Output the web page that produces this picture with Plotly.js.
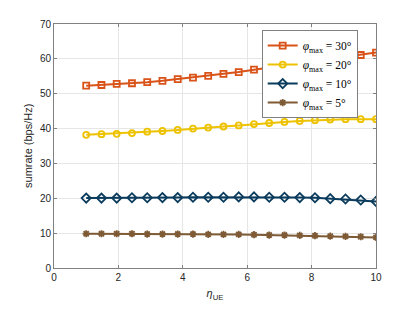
<!DOCTYPE html>
<html><head><meta charset="utf-8">
<script src="https://cdn.plot.ly/plotly-3.0.1.min.js"></script>
<style>html,body{margin:0;padding:0;background:#fff;}#chart{width:415px;height:312px;}</style>
</head><body><div id="chart"></div>
<script>
const etaUE = [1.000,1.474,1.947,2.421,2.895,3.368,3.842,4.316,4.789,5.263,5.737,6.211,6.684,7.158,7.632,8.105,8.579,9.053,9.526,10.000];
const phi30 = [52.3,52.5,52.8,53.0,53.3,53.7,54.2,54.6,55.1,55.7,56.2,56.9,57.5,58.1,58.7,59.3,59.9,60.5,61.1,61.8];
const phi20 = [38.2,38.4,38.5,38.7,39.1,39.3,39.6,40.0,40.3,40.6,40.9,41.3,41.6,41.9,42.2,42.4,42.6,42.7,42.7,42.7];
const phi10 = [20.05,20.05,20.05,20.15,20.15,20.2,20.2,20.3,20.3,20.3,20.4,20.4,20.3,20.3,20.2,20.15,19.9,19.8,19.5,19.1];
const phi5  = [9.83,9.83,9.83,9.83,9.74,9.74,9.74,9.74,9.64,9.64,9.64,9.55,9.45,9.45,9.35,9.26,9.16,9.06,8.97,8.78];
const names = ['<i>φ</i><sub>max</sub> = 30°','<i>φ</i><sub>max</sub> = 20°','<i>φ</i><sub>max</sub> = 10°','<i>φ</i><sub>max</sub> = 5°'];
const xTicks = [0,2,4,6,8,10];
const yTicks = [0,10,20,30,40,50,60,70];

const colors = ['#D95319','#EDC200','#0B3C5D','#7E5A35'];
const symbols = ['square-open','circle-open','diamond-open','asterisk-open'];
const sizes = [6,6,7,6];
const series = [phi30,phi20,phi10,phi5];
const traces = series.map((ys,i)=>({
  x: etaUE, y: ys, name: names[i], type:'scatter', mode:'lines+markers',
  line:{color:colors[i], width:2},
  marker:{symbol:symbols[i], size:sizes[i], color:colors[i], line:{color:colors[i], width:1.8}}
}));

const tickFont = {family:'Liberation Sans, Arial, sans-serif', size:10, color:'#262626'};
const axisCommon = {
  showline:true, linecolor:'#808080', linewidth:1, mirror:'ticks',
  ticks:'inside', ticklen:3, tickcolor:'#808080',
  showgrid:true, gridcolor:'#E6E6E6', gridwidth:1, zeroline:false,
  tickfont:tickFont
};
const layout = {
  width:415, height:312,
  margin:{l:54, r:39, t:24, b:44},
  paper_bgcolor:'#fff', plot_bgcolor:'#fff',
  showlegend:true,
  legend:{x:0.645, y:0.975, xanchor:'left', yanchor:'top',
    bgcolor:'#fff', bordercolor:'#808080', borderwidth:1,
    font:{family:'Liberation Serif, DejaVu Serif, serif', size:11.5, color:'#000'},
    tracegroupgap:0, itemwidth:30},
  xaxis: Object.assign({}, axisCommon, {range:[0,10], tickvals:xTicks, ticktext:xTicks.map(String),
    title:{text:'<i>η</i><sub>UE</sub>', font:{family:'Liberation Sans, Arial, sans-serif', size:11, color:'#262626'}, standoff:7}}),
  yaxis: Object.assign({}, axisCommon, {range:[0,70], tickvals:yTicks, ticktext:yTicks.map(String)}),
  annotations:[{text:'sumrate (bps/Hz)', xref:'paper', yref:'paper', x:-0.056, y:0.5,
    xanchor:'right', yanchor:'middle', textangle:-90, showarrow:false,
    font:{family:'Liberation Sans, Arial, sans-serif', size:11, color:'#262626'}}]
};
Plotly.newPlot('chart', traces, layout, {displayModeBar:false, staticPlot:true});
</script></body></html>
